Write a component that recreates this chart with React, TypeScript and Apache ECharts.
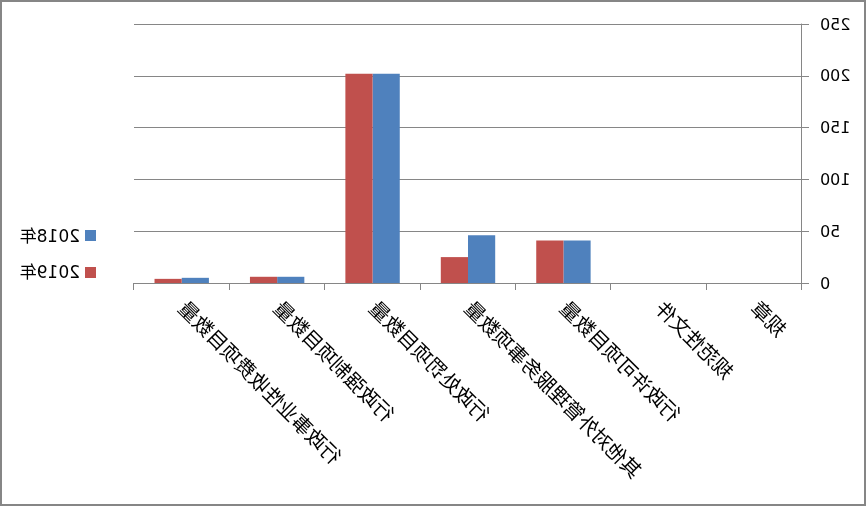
import React, { useEffect, useRef } from "react";
import * as echarts from "echarts";

const categories = [
  "规章",
  "规范性文件",
  "行政许可项目数量",
  "其他对外管理服务事项数量",
  "行政处罚项目数量",
  "行政强制项目数量",
  "行政事业性收费项目数量",
];
const values2018 = [0, 0, 41, 46, 202, 6, 5];
const values2019 = [0, 0, 41, 25, 202, 6, 4];
const seriesNames = ["2018年", "2019年"];
const yMin = 0;
const yMax = 250;
const yInterval = 50;

const GRAY = "#868686";
const BLUE = "#4F81BD";
const RED = "#C0504D";
const FONT = "'DejaVu Sans', 'Noto Sans CJK SC', sans-serif";

export default function App() {
  const ref = useRef<HTMLDivElement>(null);
  useEffect(() => {
    if (!ref.current) return;
    const chart = echarts.init(ref.current, undefined, { renderer: "svg" });
    chart.setOption({
      animation: false,
      backgroundColor: "#fff",
      textStyle: { fontFamily: FONT },
      graphic: [
        {
          type: "rect",
          shape: { x: 1, y: 1, width: 864, height: 504 },
          style: { fill: "none", stroke: GRAY, lineWidth: 2 },
          silent: true,
        },
      ],
      legend: {
        orient: "vertical",
        left: 765,
        top: 222,
        itemWidth: 11,
        itemHeight: 11,
        itemGap: 20,
        icon: "rect",
        textStyle: { fontSize: 17, color: "#000", fontFamily: FONT },
        data: seriesNames,
      },
      grid: { left: 64, right: 134, top: 24, bottom: 223, containLabel: false },
      xAxis: {
        type: "category",
        data: categories,
        axisLine: { lineStyle: { color: GRAY, width: 1 } },
        axisTick: { show: true, length: 7, lineStyle: { color: GRAY } },
        axisLabel: {
          rotate: 45,
          interval: 0,
          fontSize: 20,
          margin: 22,
          color: "#000",
          fontFamily: FONT,
        },
      },
      yAxis: {
        type: "value",
        min: yMin,
        max: yMax,
        interval: yInterval,
        axisLine: { show: true, lineStyle: { color: GRAY, width: 1 } },
        axisTick: { show: true, length: 7, lineStyle: { color: GRAY } },
        splitLine: { show: true, lineStyle: { color: GRAY, width: 1 } },
        axisLabel: { fontSize: 16, margin: 18, color: "#000", fontFamily: FONT },
      },
      series: [
        {
          name: seriesNames[0],
          type: "bar",
          data: values2018,
          itemStyle: { color: BLUE },
          barGap: "0%",
          barCategoryGap: "43%",
        },
        {
          name: seriesNames[1],
          type: "bar",
          data: values2019,
          itemStyle: { color: RED },
          barGap: "0%",
          barCategoryGap: "43%",
        },
      ],
    });
    return () => chart.dispose();
  }, []);
  return (
    <div
      ref={ref}
      style={{
        position: "fixed",
        left: 0,
        top: 0,
        width: 866,
        height: 506,
        transform: "scaleX(-1)",
      }}
    />
  );
}
